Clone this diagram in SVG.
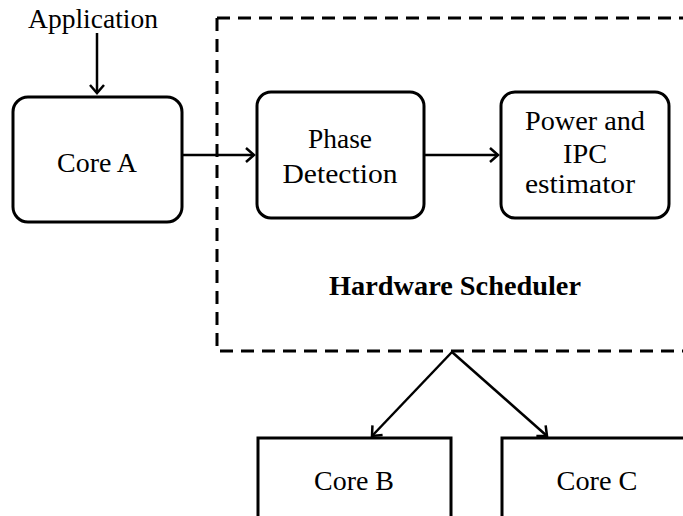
<svg xmlns="http://www.w3.org/2000/svg" width="683" height="516" viewBox="0 0 683 516">
<style>
.box{fill:#fff;stroke:#000;stroke-width:3}
.t{font-family:'Liberation Serif','Times New Roman',Times,serif;font-size:27px;fill:#000;text-anchor:middle}
.b{font-weight:bold}
.c{stroke:#000;stroke-width:2.5;fill:none}
.d{stroke:#000;stroke-width:3;fill:none;stroke-dasharray:13 8}
</style>
<defs>
<marker id="ah" markerUnits="userSpaceOnUse" markerWidth="14" markerHeight="16" refX="11" refY="8" orient="auto" overflow="visible">
<path d="M3,1 L11,8 L3,15" fill="none" stroke="#000" stroke-width="2.5"/>
</marker>
</defs>
<g id="scheduler">
<path class="d" d="M217 18 H683"/>
<path class="d" d="M217 18 V351 H683"/>
<text class="t b" x="455" y="295" textLength="252" lengthAdjust="spacingAndGlyphs">Hardware Scheduler</text>
</g>
<g id="application">
<text class="t" x="93" y="28" textLength="130" lengthAdjust="spacingAndGlyphs">Application</text>
</g>
<g id="coreA">
<rect class="box" x="13" y="97" width="169" height="125" rx="15"/>
<text class="t" x="97" y="172" textLength="80" lengthAdjust="spacingAndGlyphs">Core A</text>
</g>
<g id="phase">
<rect class="box" x="257" y="92" width="167" height="126" rx="14"/>
<text class="t" x="340" y="148" textLength="64" lengthAdjust="spacingAndGlyphs">Phase</text>
<text class="t" x="340" y="183" textLength="115" lengthAdjust="spacingAndGlyphs">Detection</text>
</g>
<g id="power">
<rect class="box" x="501" y="92" width="168" height="126" rx="14"/>
<text class="t" x="585" y="130" textLength="120" lengthAdjust="spacingAndGlyphs">Power and</text>
<text class="t" x="585" y="163" textLength="44" lengthAdjust="spacingAndGlyphs">IPC</text>
<text class="t" x="580" y="193" textLength="110" lengthAdjust="spacingAndGlyphs">estimator</text>
</g>
<g id="coreB">
<rect class="box" x="258" y="438" width="193" height="90"/>
<text class="t" x="354" y="490" textLength="80" lengthAdjust="spacingAndGlyphs">Core B</text>
</g>
<g id="coreC">
<rect class="box" x="502" y="438" width="200" height="90"/>
<text class="t" x="597" y="490" textLength="81" lengthAdjust="spacingAndGlyphs">Core C</text>
</g>
<g id="connectors">
<line class="c" x1="97" y1="33" x2="97" y2="93" marker-end="url(#ah)"/>
<line class="c" x1="182" y1="155" x2="254" y2="155" marker-end="url(#ah)"/>
<line class="c" x1="424" y1="155" x2="498" y2="155" marker-end="url(#ah)"/>
<line class="c" x1="452" y1="352" x2="372" y2="436" marker-end="url(#ah)"/>
<line class="c" x1="452" y1="352" x2="547" y2="436" marker-end="url(#ah)"/>
</g>
</svg>
